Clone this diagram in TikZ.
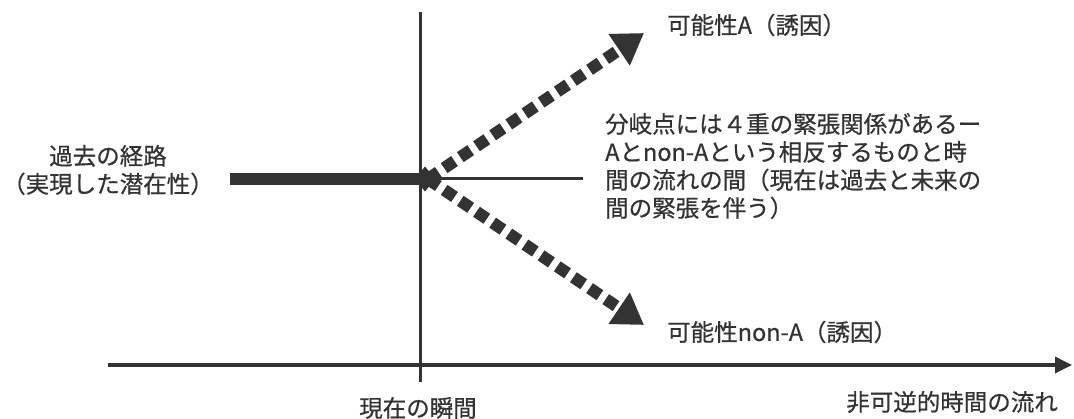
\documentclass[tikz,border=0pt]{standalone}
\usepackage{fontspec}
\setmainfont{Noto Sans CJK JP}[FakeBold=0.6]
\usetikzlibrary{arrows.meta,shapes.geometric}
\definecolor{ink}{HTML}{333333}
\tikzset{
  lbl/.style={inner sep=0pt, text=ink, font=\fontsize{23.5}{28}\selectfont},
  dasharrow/.style={draw=ink, line width=12pt, dash pattern=on 12.5pt off 7pt,
    -{Triangle[length=30pt,width=36pt]}},
  axisline/.style={draw=ink, line width=3.5pt},
}
\begin{document}
\begin{tikzpicture}[x=1pt,y=-1pt]
\useasboundingbox (0,0) rectangle (1074,419);
% coordinates
\coordinate (vtop) at (420.5,12);
\coordinate (vbot) at (420.5,382);
\coordinate (axL) at (108,365);
\coordinate (axR) at (1072,365);
\coordinate (barL) at (230,179);
\coordinate (J) at (428,179);
\coordinate (thinR) at (583,179);
\coordinate (tipA) at (644,33);
\coordinate (tipN) at (644,325);
% lines
\draw[axisline] (vtop) -- (vbot);
\draw[axisline, -{Triangle[length=17pt,width=16pt]}] (axL) -- (axR);
\draw[draw=ink, line width=3pt] (J) -- (thinR);
\draw[draw=ink, line width=12pt] (barL) -- (J);
\node[diamond, fill=ink, inner sep=0pt, minimum width=21pt, minimum height=25pt] (D) at (425,179) {};
\draw[dasharrow] (J) -- (tipA);
\draw[dasharrow] (J) -- (tipN);
% labels
\node[lbl, anchor=west] (pA) at (667,25) {可能性A（誘因）};
\node[lbl, anchor=west] (pN) at (667,332) {可能性non-A（誘因）};
\node[lbl, anchor=west, align=left] (note) at (605,166)
  {分岐点には４重の緊張関係があるー\\Aとnon-Aという相反するものと時\\間の流れの間（現在は過去と未来の\\間の緊張を伴う）};
\node[lbl, align=center] (past) at (108,170) {過去の経路\\（実現した潜在性）};
\node[lbl] (now) at (418,408) {現在の瞬間};
\node[lbl, anchor=east] (flow) at (1058,402) {非可逆的時間の流れ};
\end{tikzpicture}
\end{document}
